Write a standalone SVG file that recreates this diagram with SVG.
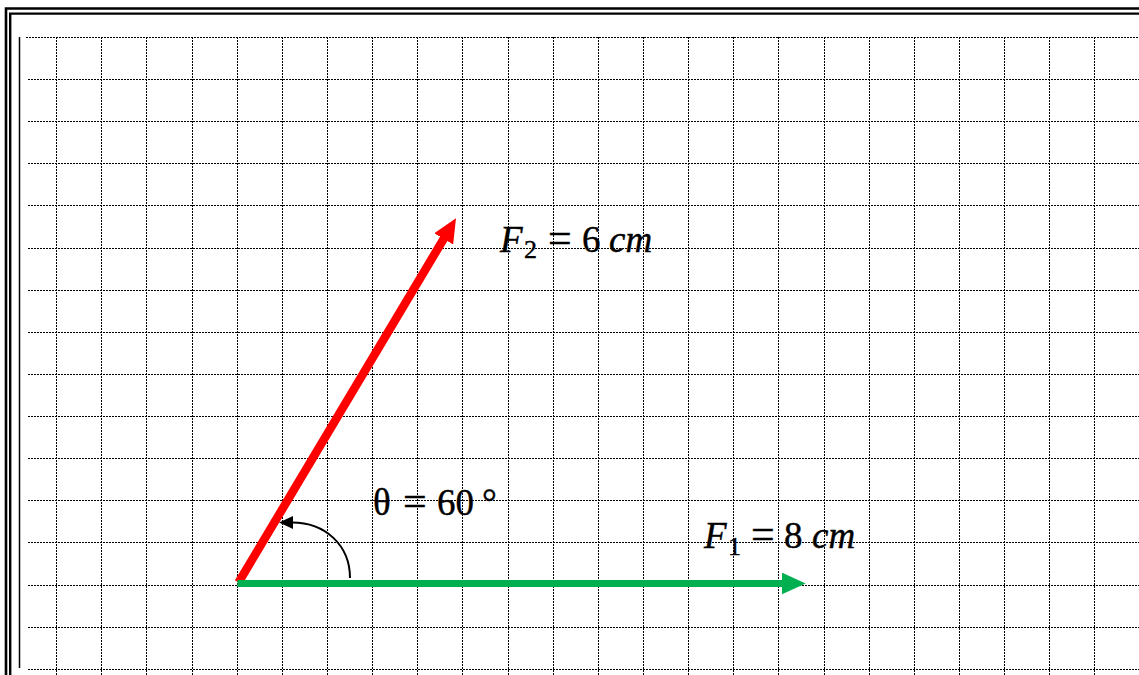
<svg xmlns="http://www.w3.org/2000/svg" width="1139" height="675" viewBox="0 0 1139 675">
<style>
.grid line{stroke:#000;stroke-width:1;stroke-dasharray:2 1}
.lbl{font-family:"Liberation Serif","Times New Roman",serif;font-size:37px;fill:#000;stroke:#000;stroke-width:0.4}
.i{font-style:italic}
.sub{font-size:26px}
.eq{font-size:42px}
</style>
<defs>
<marker id="hRed" markerUnits="userSpaceOnUse" markerWidth="24" markerHeight="22" refX="1" refY="11" orient="auto" viewBox="0 0 24 22"><path d="M0,0 L24,11 L0,22 z" fill="#ff0000"/></marker>
<marker id="hGreen" markerUnits="userSpaceOnUse" markerWidth="24" markerHeight="22" refX="1" refY="11" orient="auto" viewBox="0 0 24 22"><path d="M0,0 L24,11 L0,22 z" fill="#00b050"/></marker>
<marker id="hBlack" markerUnits="userSpaceOnUse" markerWidth="14" markerHeight="13" refX="1" refY="6.5" orient="auto" viewBox="0 0 14 13"><path d="M0,0 L14,6.5 L0,13 z" fill="#000"/></marker>
</defs>
<rect width="1139" height="675" fill="#fff"/>
<g id="border" fill="none" stroke="#000">
<path d="M6,675 V8.5 H1139" stroke-width="2.6"/>
<path d="M10.2,675 V13.6 H1139" stroke-width="2.4"/>
<line x1="19.5" y1="37" x2="19.5" y2="668" stroke-width="1.5"/>
</g>
<g id="grid" class="grid">
<line x1="26" y1="37.5" x2="1139" y2="37.5"/>
<line x1="28" y1="79.5" x2="1139" y2="79.5"/>
<line x1="28" y1="121.5" x2="1139" y2="121.5"/>
<line x1="28" y1="163.5" x2="1139" y2="163.5"/>
<line x1="28" y1="205.5" x2="1139" y2="205.5"/>
<line x1="28" y1="248.5" x2="1139" y2="248.5"/>
<line x1="28" y1="290.5" x2="1139" y2="290.5"/>
<line x1="28" y1="332.5" x2="1139" y2="332.5"/>
<line x1="28" y1="374.5" x2="1139" y2="374.5"/>
<line x1="28" y1="416.5" x2="1139" y2="416.5"/>
<line x1="28" y1="458.5" x2="1139" y2="458.5"/>
<line x1="28" y1="500.5" x2="1139" y2="500.5"/>
<line x1="28" y1="542.5" x2="1139" y2="542.5"/>
<line x1="28" y1="585.5" x2="1139" y2="585.5"/>
<line x1="28" y1="627.5" x2="1139" y2="627.5"/>
<line x1="28" y1="669.5" x2="1139" y2="669.5"/>
<line x1="56.5" y1="37" x2="56.5" y2="675"/>
<line x1="101.5" y1="37" x2="101.5" y2="675"/>
<line x1="146.5" y1="37" x2="146.5" y2="675"/>
<line x1="192.5" y1="37" x2="192.5" y2="675"/>
<line x1="237.5" y1="37" x2="237.5" y2="675"/>
<line x1="282.5" y1="37" x2="282.5" y2="675"/>
<line x1="327.5" y1="37" x2="327.5" y2="675"/>
<line x1="372.5" y1="37" x2="372.5" y2="675"/>
<line x1="417.5" y1="37" x2="417.5" y2="675"/>
<line x1="462.5" y1="37" x2="462.5" y2="675"/>
<line x1="508.5" y1="37" x2="508.5" y2="675"/>
<line x1="553.5" y1="37" x2="553.5" y2="675"/>
<line x1="598.5" y1="37" x2="598.5" y2="675"/>
<line x1="643.5" y1="37" x2="643.5" y2="675"/>
<line x1="688.5" y1="37" x2="688.5" y2="675"/>
<line x1="733.5" y1="37" x2="733.5" y2="675"/>
<line x1="778.5" y1="37" x2="778.5" y2="675"/>
<line x1="824.5" y1="37" x2="824.5" y2="675"/>
<line x1="869.5" y1="37" x2="869.5" y2="675"/>
<line x1="914.5" y1="37" x2="914.5" y2="675"/>
<line x1="959.5" y1="37" x2="959.5" y2="675"/>
<line x1="1004.5" y1="37" x2="1004.5" y2="675"/>
<line x1="1049.5" y1="37" x2="1049.5" y2="675"/>
<line x1="1094.5" y1="37" x2="1094.5" y2="675"/>
</g>
<g id="connectors" fill="none">
<line id="vecF2" x1="238.5" y1="582.5" x2="444.2" y2="238" stroke="#ff0000" stroke-width="8.5" marker-end="url(#hRed)"/>
<line id="vecF1" x1="237.5" y1="583.5" x2="782.7" y2="583.5" stroke="#00b050" stroke-width="7" marker-end="url(#hGreen)"/>
<path id="angleArc" d="M350,578 C350,545 325,522.5 292,522.5" stroke="#000" stroke-width="2" marker-end="url(#hBlack)"/>
</g>
<g id="label-F2">
<text class="lbl"><tspan class="i" x="500" y="252">F</tspan><tspan class="sub" x="524" y="258">2</tspan><tspan class="eq" x="548" y="252">=</tspan><tspan x="582" y="252">6</tspan><tspan class="i" x="609" y="252">cm</tspan></text>
</g>
<g id="label-theta">
<text class="lbl"><tspan x="373" y="515">θ</tspan><tspan class="eq" x="403" y="515">=</tspan><tspan x="437" y="515">60</tspan><tspan x="482" y="515">°</tspan></text>
</g>
<g id="label-F1">
<text class="lbl"><tspan class="i" x="704" y="548">F</tspan><tspan class="sub" x="728" y="555">1</tspan><tspan class="eq" x="751" y="548">=</tspan><tspan x="784" y="548">8</tspan><tspan class="i" x="812" y="548">cm</tspan></text>
</g>
</svg>
